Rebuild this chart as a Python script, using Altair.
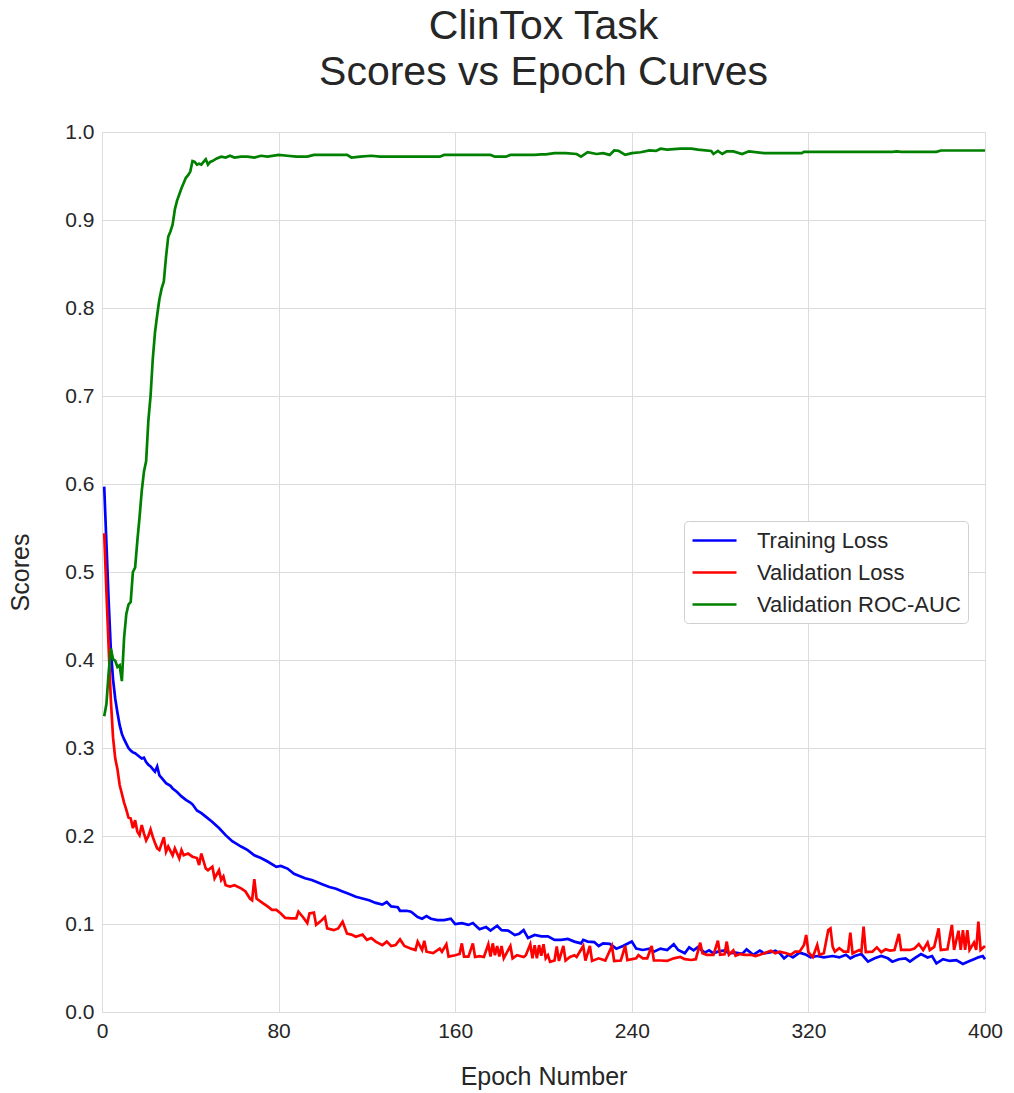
import altair as alt
import pandas as pd

# ---- training history (epoch -> score) ----
train_epochs = [1, 2, 3, 4, 5, 6, 7, 8, 9, 10, 11, 12, 13, 14, 15, 16, 17, 18, 19, 20,
                21, 22, 23, 24, 25, 26, 27, 29, 31, 32, 34, 36, 38, 40, 41, 43, 45, 47, 50, 53,
                56, 59, 61, 63, 66, 69, 72, 75, 79, 81, 84, 87, 90, 92, 95, 97, 100, 103, 106, 109,
                112, 115, 118, 121, 124, 127, 129, 131, 134, 135, 138, 140, 143, 145, 147, 149, 152, 155, 158, 160,
                163, 166, 168, 171, 174, 176, 179, 181, 184, 187, 189, 191, 193, 196, 199, 202, 205, 208, 211, 214,
                217, 218, 220, 223, 225, 227, 230, 233, 236, 240, 242, 245, 248, 250, 253, 256, 259, 261, 264, 266,
                268, 270, 273, 275, 277, 279, 282, 284, 287, 290, 292, 295, 298, 300, 303, 305, 307, 309, 311, 313,
                316, 319, 321, 324, 327, 331, 334, 337, 339, 341, 344, 347, 350, 353, 356, 358, 361, 364, 366, 368,
                371, 374, 376, 378, 381, 384, 387, 390, 393, 395, 397, 399, 400]
train_loss = [0.597, 0.533, 0.468, 0.412, 0.378, 0.356, 0.340, 0.326, 0.316, 0.310, 0.305, 0.300, 0.297, 0.295, 0.294, 0.292, 0.290, 0.288, 0.289, 0.284,
              0.281, 0.279, 0.276, 0.273, 0.279, 0.269, 0.266, 0.260, 0.257, 0.254, 0.250, 0.245, 0.241, 0.238, 0.236, 0.229, 0.226, 0.222, 0.216, 0.209,
              0.201, 0.194, 0.191, 0.188, 0.184, 0.178, 0.175, 0.171, 0.165, 0.166, 0.163, 0.157, 0.154, 0.152, 0.150, 0.148, 0.145, 0.142, 0.140, 0.137,
              0.134, 0.131, 0.129, 0.127, 0.124, 0.122, 0.125, 0.120, 0.119, 0.115, 0.115, 0.114, 0.108, 0.106, 0.109, 0.106, 0.1045, 0.1045, 0.106, 0.100,
              0.101, 0.099, 0.101, 0.094, 0.0965, 0.0925, 0.098, 0.093, 0.0925, 0.0875, 0.089, 0.093, 0.084, 0.0875, 0.086, 0.086, 0.082, 0.082, 0.083, 0.080,
              0.078, 0.082, 0.080, 0.0795, 0.075, 0.078, 0.0775, 0.072, 0.075, 0.080, 0.072, 0.0705, 0.072, 0.0685, 0.072, 0.0705, 0.077, 0.0705, 0.0667, 0.0735,
              0.070, 0.074, 0.0675, 0.070, 0.0667, 0.0686, 0.070, 0.0667, 0.0675, 0.066, 0.0712, 0.065, 0.0697, 0.0667, 0.068, 0.0697, 0.067, 0.061, 0.065, 0.0621,
              0.0675, 0.065, 0.0621, 0.0636, 0.0621, 0.0636, 0.062, 0.065, 0.061, 0.0636, 0.0659, 0.0572, 0.061, 0.0636, 0.061, 0.0572, 0.060, 0.061, 0.0572, 0.061,
              0.0659, 0.062, 0.0636, 0.0553, 0.060, 0.058, 0.059, 0.0546, 0.058, 0.060, 0.0621, 0.0636, 0.060]

val_epochs = [1, 2, 3, 4, 5, 6, 7, 8, 9, 10, 11, 12, 13, 14, 15, 16, 17, 18, 19, 20,
              21, 22, 23, 24, 25, 26, 28, 29, 30, 32, 33, 35, 36, 37, 39, 41, 43, 44, 45, 47,
              48, 50, 51, 53, 54, 55, 56, 58, 60, 63, 65, 67, 68, 69, 70, 73, 75, 77, 79, 81,
              83, 86, 88, 89, 91, 93, 94, 96, 97, 99, 101, 102, 105, 107, 109, 111, 113, 115, 118, 120,
              122, 124, 127, 129, 131, 133, 135, 137, 140, 142, 143, 145, 146, 147, 150, 153, 154, 156, 157, 160,
              162, 163, 164, 166, 168, 169, 171, 173, 175, 176, 177, 178, 179, 180, 181, 182, 185, 186, 188, 191,
              192, 194, 195, 196, 197, 198, 199, 200, 201, 202, 203, 205, 206, 207, 209, 210, 212, 214, 215, 218,
              219, 221, 222, 225, 228, 231, 232, 235, 237, 238, 242, 243, 245, 247, 249, 250, 253, 256, 259, 262,
              264, 267, 269, 271, 272, 274, 277, 279, 280, 282, 283, 284, 286, 287, 289, 291, 294, 296, 298, 300,
              303, 305, 307, 310, 312, 314, 316, 318, 319, 320, 321, 322, 324, 325, 327, 329, 330, 331, 332, 334,
              336, 338, 339, 340, 343, 344, 345, 346, 349, 351, 353, 355, 357, 359, 361, 362, 366, 368, 370, 372,
              374, 375, 377, 379, 380, 383, 385, 386, 388, 389, 390, 391, 392, 393, 395, 396, 397, 398, 400]
val_loss = [0.544, 0.478, 0.415, 0.355, 0.312, 0.288, 0.276, 0.258, 0.248, 0.238, 0.230, 0.221, 0.220, 0.209, 0.218, 0.205, 0.201, 0.2125, 0.203, 0.195,
            0.200, 0.2075, 0.199, 0.192, 0.186, 0.184, 0.1985, 0.182, 0.188, 0.178, 0.186, 0.1745, 0.184, 0.178, 0.180, 0.1765, 0.175, 0.167, 0.180, 0.163,
            0.161, 0.165, 0.152, 0.161, 0.150, 0.154, 0.144, 0.1425, 0.144, 0.1405, 0.137, 0.129, 0.127, 0.151, 0.129, 0.1235, 0.120, 0.116, 0.116, 0.112,
            0.107, 0.1065, 0.1065, 0.114, 0.108, 0.101, 0.112, 0.113, 0.099, 0.103, 0.108, 0.095, 0.093, 0.095, 0.1025, 0.089, 0.088, 0.0855, 0.088, 0.082,
            0.084, 0.080, 0.076, 0.080, 0.075, 0.076, 0.0825, 0.075, 0.072, 0.0705, 0.080, 0.0705, 0.081, 0.0685, 0.067, 0.072, 0.0685, 0.077, 0.063, 0.0645,
            0.066, 0.078, 0.063, 0.063, 0.078, 0.0625, 0.0635, 0.0625, 0.077, 0.063, 0.078, 0.0645, 0.075, 0.063, 0.075, 0.061, 0.075, 0.061, 0.0645, 0.0625,
            0.0645, 0.077, 0.061, 0.076, 0.061, 0.076, 0.064, 0.077, 0.061, 0.0645, 0.057, 0.0585, 0.0745, 0.058, 0.075, 0.0585, 0.0625, 0.0645, 0.0625, 0.075,
            0.0585, 0.075, 0.058, 0.061, 0.0585, 0.075, 0.058, 0.0585, 0.075, 0.059, 0.061, 0.0645, 0.061, 0.061, 0.075, 0.0585, 0.0585, 0.058, 0.061, 0.0625,
            0.060, 0.0591, 0.060, 0.0788, 0.0667, 0.065, 0.065, 0.081, 0.065, 0.0655, 0.080, 0.065, 0.070, 0.064, 0.066, 0.065, 0.065, 0.0635, 0.065, 0.0667,
            0.0697, 0.0667, 0.0686, 0.0667, 0.065, 0.0686, 0.0686, 0.0761, 0.0875, 0.068, 0.065, 0.0625, 0.0761, 0.065, 0.0667, 0.0932, 0.095, 0.074, 0.0686, 0.0724,
            0.0686, 0.0686, 0.0902, 0.0667, 0.0705, 0.0686, 0.097, 0.068, 0.0686, 0.0735, 0.068, 0.0712, 0.0697, 0.0705, 0.0887, 0.0705, 0.0705, 0.072, 0.0773, 0.0705,
            0.0788, 0.0705, 0.074, 0.095, 0.0705, 0.0712, 0.0989, 0.0705, 0.0924, 0.0705, 0.093, 0.0705, 0.093, 0.0705, 0.0788, 0.0705, 0.1026, 0.0705, 0.075]

auc_epochs = [1, 2, 3, 4, 5, 6, 7, 8, 9, 10, 11, 12, 13, 14, 15, 16, 17, 18, 19, 20,
              21, 22, 23, 24, 25, 26, 27, 28, 29, 30, 31, 32, 33, 34, 35, 36, 37, 38, 39, 40,
              41, 42, 43, 44, 45, 46, 47, 48, 49, 50, 52, 54, 56, 58, 60, 63, 66, 69, 72, 75,
              80, 84, 88, 93, 96, 102, 108, 111, 113, 117, 122, 126, 153, 155, 176, 178, 183, 185, 196, 199,
              201, 205, 210, 215, 217, 220, 224, 227, 230, 232, 234, 237, 240, 244, 248, 251, 253, 256, 262, 267,
              270, 276, 277, 279, 281, 283, 286, 290, 293, 300, 317, 318, 358, 360, 362, 378, 380, 400]
val_auc = [0.336, 0.350, 0.385, 0.413, 0.401, 0.399, 0.392, 0.394, 0.376, 0.425, 0.452, 0.463, 0.466, 0.500, 0.505, 0.535, 0.562, 0.592, 0.614, 0.626,
           0.672, 0.700, 0.742, 0.772, 0.792, 0.810, 0.822, 0.830, 0.858, 0.881, 0.887, 0.895, 0.912, 0.922, 0.929, 0.936, 0.942, 0.948, 0.951, 0.955,
           0.967, 0.966, 0.963, 0.964, 0.963, 0.966, 0.969, 0.963, 0.966, 0.967, 0.970, 0.972, 0.971, 0.973, 0.971, 0.972, 0.972, 0.971, 0.973, 0.972,
           0.974, 0.973, 0.972, 0.972, 0.974, 0.974, 0.974, 0.974, 0.971, 0.972, 0.973, 0.972, 0.972, 0.974, 0.974, 0.972, 0.972, 0.974, 0.974, 0.9745,
           0.9745, 0.976, 0.976, 0.975, 0.972, 0.977, 0.975, 0.976, 0.974, 0.979, 0.9785, 0.974, 0.976, 0.977, 0.979, 0.9785, 0.981, 0.980, 0.981, 0.981,
           0.980, 0.9785, 0.975, 0.9785, 0.975, 0.978, 0.978, 0.975, 0.978, 0.976, 0.976, 0.9775, 0.9775, 0.978, 0.9775, 0.9775, 0.979, 0.979]

series_names = ["Training Loss", "Validation Loss", "Validation ROC-AUC"]
series_colors = ["#0000ff", "#ff0000", "#008000"]
x_ticks = [0, 80, 160, 240, 320, 400]
y_ticks = [0.0, 0.1, 0.2, 0.3, 0.4, 0.5, 0.6, 0.7, 0.8, 0.9, 1.0]

frames = [
    pd.DataFrame({"Epoch": train_epochs, "Score": train_loss, "Series": series_names[0]}),
    pd.DataFrame({"Epoch": val_epochs, "Score": val_loss, "Series": series_names[1]}),
    pd.DataFrame({"Epoch": auc_epochs, "Score": val_auc, "Series": series_names[2]}),
]

FONT = "Liberation Sans"
TEXT = "#262626"
GRID = "#dcdcdc"

x_enc = alt.X("Epoch:Q", title="Epoch Number",
              scale=alt.Scale(domain=[0, 400], nice=False, zero=False),
              axis=alt.Axis(values=x_ticks, labelFlush=False, labelPadding=8, titlePadding=23))
y_enc = alt.Y("Score:Q", title="Scores",
              scale=alt.Scale(domain=[0, 1], nice=False),
              axis=alt.Axis(values=y_ticks, format=".1f", labelFlush=False,
                            labelPadding=8, titlePadding=31))
# legend key: a short horizontal stroke starting at the entry's left edge
color_enc = alt.Color(
    "Series:N",
    scale=alt.Scale(domain=series_names, range=series_colors),
    legend=alt.Legend(
        title=None, orient="none", legendX=582, legendY=389,
        symbolType="M-1,0H3", symbolSize=484, symbolStrokeWidth=2.6,
        labelFontSize=22, labelFont=FONT, labelColor=TEXT, labelOffset=41,
        labelLimit=400,
        fillColor="#ffffff", strokeColor="#d0d0d0", cornerRadius=4, padding=7,
        rowPadding=8,
    ),
)

layers = [
    alt.Chart(df).mark_line(strokeWidth=2.7, interpolate="linear")
    .encode(x=x_enc, y=y_enc, color=color_enc)
    for df in frames
]

chart = (
    alt.layer(*layers)
    .properties(
        width=883, height=880,
        autosize=alt.AutoSizeParams(type="none"),
        padding={"left": 102, "top": 132, "right": 29, "bottom": 81},
        title=alt.TitleParams(
            text=["ClinTox Task", "Scores vs Epoch Curves"],
            fontSize=41, font=FONT, color=TEXT, fontWeight="normal",
            lineHeight=46, anchor="middle", frame="group", offset=27,
        ),
    )
    .configure(background="#ffffff")
    .configure_view(stroke=GRID, strokeWidth=1)
    .configure_axis(
        domain=False, ticks=False, grid=True, gridColor=GRID, gridWidth=1,
        labelFont=FONT, labelFontSize=21, labelColor=TEXT,
        titleFont=FONT, titleFontSize=25, titleFontWeight="normal", titleColor=TEXT,
    )
)

chart.save("out.html", embed_options={"renderer": "svg", "actions": False})
